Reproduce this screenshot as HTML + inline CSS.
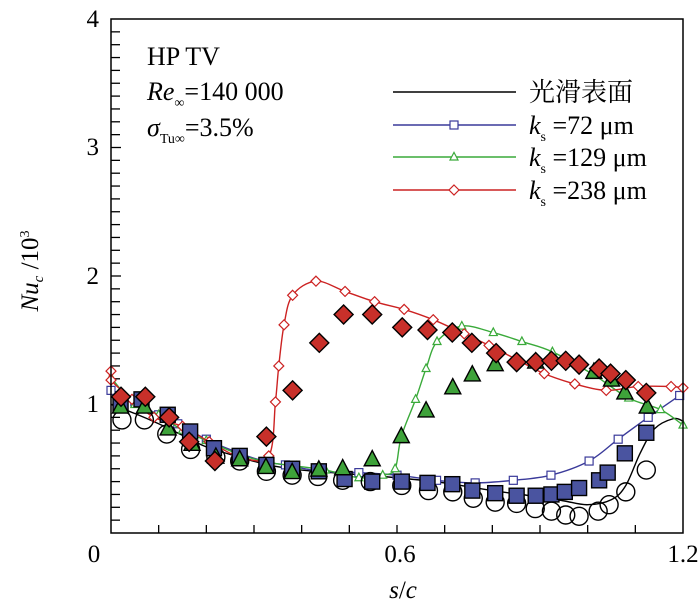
<!DOCTYPE html>
<html><head><meta charset="utf-8"><style>
html,body{margin:0;padding:0;background:#fff;}
svg{display:block;font-family:"Liberation Serif","Noto Serif CJK SC",serif;}
</style></head><body>
<svg id="chart" width="700" height="608" viewBox="0 0 700 608" xmlns="http://www.w3.org/2000/svg">
<g id="ticks"></g>
<g id="series"></g>
<rect x="111" y="19" width="572" height="514" fill="none" stroke="#000" stroke-width="1.5"/>
<g font-size="25">
<text x="99" y="27" text-anchor="end">4</text>
<text x="99" y="155" text-anchor="end">3</text>
<text x="99" y="284" text-anchor="end">2</text>
<text x="99" y="412" text-anchor="end">1</text>
<text x="94" y="562" text-anchor="middle">0</text>
<text x="400" y="562" text-anchor="middle">0.6</text>
<text x="683" y="562" text-anchor="middle">1.2</text>
<text x="403" y="598" text-anchor="middle" font-style="italic">s<tspan font-style="normal">/</tspan>c</text>
<text transform="translate(38,271) rotate(-90)" text-anchor="middle"><tspan font-style="italic">Nu</tspan><tspan font-style="italic" font-size="15" dy="5">c</tspan><tspan dy="-5"> /10</tspan><tspan font-size="14" dy="-9">3</tspan></text>
</g>
<g font-size="26">
<text x="147" y="65">HP TV</text>
<text x="147" y="100"><tspan font-style="italic">Re</tspan><tspan font-size="14" dy="7">∞</tspan><tspan dy="-7">=140 000</tspan></text>
<text x="147" y="136"><tspan font-style="italic">σ</tspan><tspan font-size="14" dy="7">Tu∞</tspan><tspan dy="-7">=3.5%</tspan></text>
</g>
<g id="legend" font-size="26"></g>
</svg>
<script>
const X0=111,X1=683,Y0=533,Y1=19;
function sx(v){return X0+v/1.2*(X1-X0);}
function sy(v){return Y0-v/4*(Y0-Y1);}
const NS="http://www.w3.org/2000/svg";
function mk(tag,parent){const e=document.createElementNS(NS,tag);parent.appendChild(e);return e;}

// data
const smoothLineS=[0,0.05,0.1,0.15,0.2,0.27,0.33,0.4,0.5,0.6,0.7,0.8,0.9,0.95,1.0,1.05,1.08,1.11,1.14,1.18,1.2];
const smoothLineV=[1.0,0.93,0.85,0.76,0.67,0.59,0.53,0.49,0.46,0.43,0.39,0.33,0.28,0.25,0.22,0.26,0.37,0.62,0.81,0.89,0.87];
const smoothPtsS=[0.023,0.07,0.117,0.167,0.22,0.27,0.326,0.38,0.434,0.486,0.544,0.61,0.666,0.717,0.76,0.806,0.851,0.89,0.924,0.954,0.982,1.022,1.045,1.08,1.123];
const smoothPtsV=[0.88,0.88,0.77,0.65,0.59,0.56,0.48,0.45,0.44,0.41,0.40,0.37,0.33,0.32,0.27,0.24,0.23,0.19,0.17,0.14,0.13,0.17,0.22,0.32,0.49];

const k72LineS=[0,0.05,0.1,0.14,0.2,0.27,0.33,0.366,0.44,0.52,0.6,0.683,0.764,0.844,0.923,1.003,1.064,1.127,1.193];
const k72LineV=[1.11,1.02,0.92,0.85,0.73,0.62,0.55,0.53,0.48,0.47,0.45,0.41,0.39,0.41,0.45,0.56,0.73,0.90,1.07];
const k72PtsS=[0.02,0.064,0.119,0.166,0.216,0.27,0.326,0.38,0.436,0.49,0.548,0.61,0.664,0.716,0.758,0.806,0.851,0.891,0.924,0.952,0.982,1.024,1.042,1.078,1.123];
const k72PtsV=[1.0,1.04,0.92,0.79,0.66,0.60,0.53,0.50,0.48,0.42,0.40,0.40,0.39,0.38,0.33,0.31,0.29,0.29,0.30,0.32,0.35,0.41,0.47,0.62,0.78];

const k129LineS=[0,0.05,0.1,0.15,0.2,0.27,0.33,0.39,0.45,0.52,0.57,0.596,0.609,0.639,0.661,0.684,0.736,0.802,0.862,0.926,1.013,1.086,1.153,1.2];
const k129LineV=[1.21,1.0,0.92,0.80,0.72,0.61,0.55,0.52,0.49,0.43,0.45,0.50,0.75,1.04,1.28,1.49,1.61,1.56,1.49,1.41,1.23,1.05,0.96,0.84];
const k129PtsS=[0.02,0.07,0.12,0.17,0.22,0.27,0.325,0.38,0.436,0.486,0.548,0.609,0.661,0.717,0.758,0.806,0.891,1.013,1.05,1.078,1.125];
const k129PtsV=[0.98,0.98,0.81,0.69,0.59,0.57,0.51,0.47,0.49,0.50,0.57,0.75,0.95,1.13,1.23,1.31,1.33,1.25,1.19,1.09,0.98];

const k238LineS=[0,0.0,0.044,0.09,0.15,0.206,0.272,0.331,0.345,0.352,0.363,0.381,0.43,0.491,0.553,0.615,0.676,0.741,0.793,0.851,0.909,0.973,1.039,1.106,1.175,1.2];
const k238LineV=[1.26,1.19,1.04,0.90,0.83,0.71,0.59,0.60,1.02,1.30,1.62,1.85,1.96,1.88,1.80,1.74,1.66,1.55,1.46,1.35,1.24,1.16,1.11,1.14,1.14,1.13];
const k238PtsS=[0.021,0.072,0.122,0.164,0.218,0.326,0.381,0.437,0.488,0.548,0.611,0.664,0.716,0.757,0.808,0.851,0.891,0.924,0.954,0.982,1.024,1.048,1.08,1.123];
const k238PtsV=[1.06,1.06,0.90,0.71,0.56,0.75,1.11,1.48,1.70,1.70,1.60,1.58,1.56,1.48,1.40,1.33,1.33,1.34,1.34,1.31,1.28,1.24,1.19,1.09];

const xTicks=[0.1,0.2,0.3,0.4,0.5,0.6,0.7,0.8,0.9,1.0,1.1];
const yTicks=[0.1,0.2,0.3,0.4,0.5,0.6,0.7,0.8,0.9,1,1.1,1.2,1.3,1.4,1.5,1.6,1.7,1.8,1.9,2,2.1,2.2,2.3,2.4,2.5,2.6,2.7,2.8,2.9,3,3.1,3.2,3.3,3.4,3.5,3.6,3.7,3.8,3.9];

const tg=document.getElementById('ticks');
xTicks.forEach(v=>{const l=mk('line',tg);


l.setAttribute('x1',sx(v));l.setAttribute('x2',sx(v));l.setAttribute('y1',Y0);l.setAttribute('y2',Y0-8);l.setAttribute('stroke','#000');l.setAttribute('stroke-width','1.3');});
yTicks.forEach(v=>{const l=mk('line',tg);


const major=Math.abs(v-Math.round(v))<1e-6;
l.setAttribute('x1',X0);l.setAttribute('x2',X0+(major?10:9));l.setAttribute('y1',sy(v));l.setAttribute('y2',sy(v));l.setAttribute('stroke','#000');l.setAttribute('stroke-width','1.3');});

function smoothPath(xs,ys){
 const p=xs.map((s,i)=>[sx(s),sy(ys[i])]);
 let d='M'+p[0][0]+','+p[0][1];
 for(let i=0;i<p.length-1;i++){
  const p0=p[Math.max(0,i-1)],p1=p[i],p2=p[i+1],p3=p[Math.min(p.length-1,i+2)];
  const c1=[p1[0]+(p2[0]-p0[0])/6,p1[1]+(p2[1]-p0[1])/6];
  const c2=[p2[0]-(p3[0]-p1[0])/6,p2[1]-(p3[1]-p1[1])/6];
  d+=' C'+c1+' '+c2+' '+p2;
 }
 return d;
}
function marker(g,type,x,y,size,fill,stroke,sw){
 let e;
 if(type==='circle'){e=mk('circle',g);e.setAttribute('cx',x);e.setAttribute('cy',y);e.setAttribute('r',size);}
 else if(type==='square'){e=mk('rect',g);e.setAttribute('x',x-size);e.setAttribute('y',y-size);e.setAttribute('width',2*size);e.setAttribute('height',2*size);}
 else if(type==='triangle'){e=mk('polygon',g);e.setAttribute('points',`${x},${y-size*1.15} ${x-size},${y+size*0.75} ${x+size},${y+size*0.75}`);}
 else {e=mk('polygon',g);e.setAttribute('points',`${x},${y-size} ${x+size},${y} ${x},${y+size} ${x-size},${y}`);}
 e.setAttribute('fill',fill);e.setAttribute('stroke',stroke);e.setAttribute('stroke-width',sw);
 return e;
}
const sg=document.getElementById('series');
const defs=[
 {n:'smooth',ls:smoothLineS,lv:smoothLineV,ps:smoothPtsS,pv:smoothPtsV,col:'#000',t:'circle',fill:'none',sz:9,open:false},
 {n:'k72',ls:k72LineS,lv:k72LineV,ps:k72PtsS,pv:k72PtsV,col:'#3a3a9a',t:'square',fill:'#4a54a0',sz:7.5,open:true},
 {n:'k129',ls:k129LineS,lv:k129LineV,ps:k129PtsS,pv:k129PtsV,col:'#3aaa3a',t:'triangle',fill:'#3ea23a',sz:8,open:true},
 {n:'k238',ls:k238LineS,lv:k238LineV,ps:k238PtsS,pv:k238PtsV,col:'#cc2222',t:'diamond',fill:'#c8302a',sz:9.5,open:true}
];
defs.forEach(d=>{
 const g=mk('g',sg);
 
 
 const p=mk('path',g);
 
 
 p.setAttribute('d',smoothPath(d.ls,d.lv));p.setAttribute('fill','none');p.setAttribute('stroke',d.col);p.setAttribute('stroke-width','1.4');
 if(d.open){d.ls.forEach((s,i)=>{const m=marker(g,d.t,sx(s),sy(d.lv[i]),d.t==='diamond'?5:4,'#fff',d.col,1.2);
  
  });}
});
defs.forEach(d=>{
 const g=mk('g',sg);
 
 
 d.ps.forEach((s,i)=>{const m=marker(g,d.t,sx(s),sy(d.pv[i]),d.sz,d.fill,'#000',1.4);
  
  });
});

const legendLabels=['光滑表面','k','k','k'];
const legendValues=['','=72 μm','=129 μm','=238 μm'];
const lg=document.getElementById('legend');
defs.forEach((d,i)=>{
 const y=[92,125,157,190][i];
 const g=mk('g',lg);
 
 
 const l=mk('line',g);l.setAttribute('x1',393);l.setAttribute('x2',516);l.setAttribute('y1',y);l.setAttribute('y2',y);l.setAttribute('stroke',d.col);l.setAttribute('stroke-width','1.4');
 if(d.open)marker(g,d.t,454,y,d.t==='diamond'?5:4,'#fff',d.col,1.2);
 const t=mk('text',g);t.setAttribute('x',529);t.setAttribute('y',y+9);
 if(i===0){t.textContent=legendLabels[0];}
 else{t.innerHTML='<tspan font-style="italic">k</tspan><tspan font-size="14" dy="7">s</tspan><tspan dy="-7"> '+legendValues[i]+'</tspan>';}
});
</script>
</body></html>
